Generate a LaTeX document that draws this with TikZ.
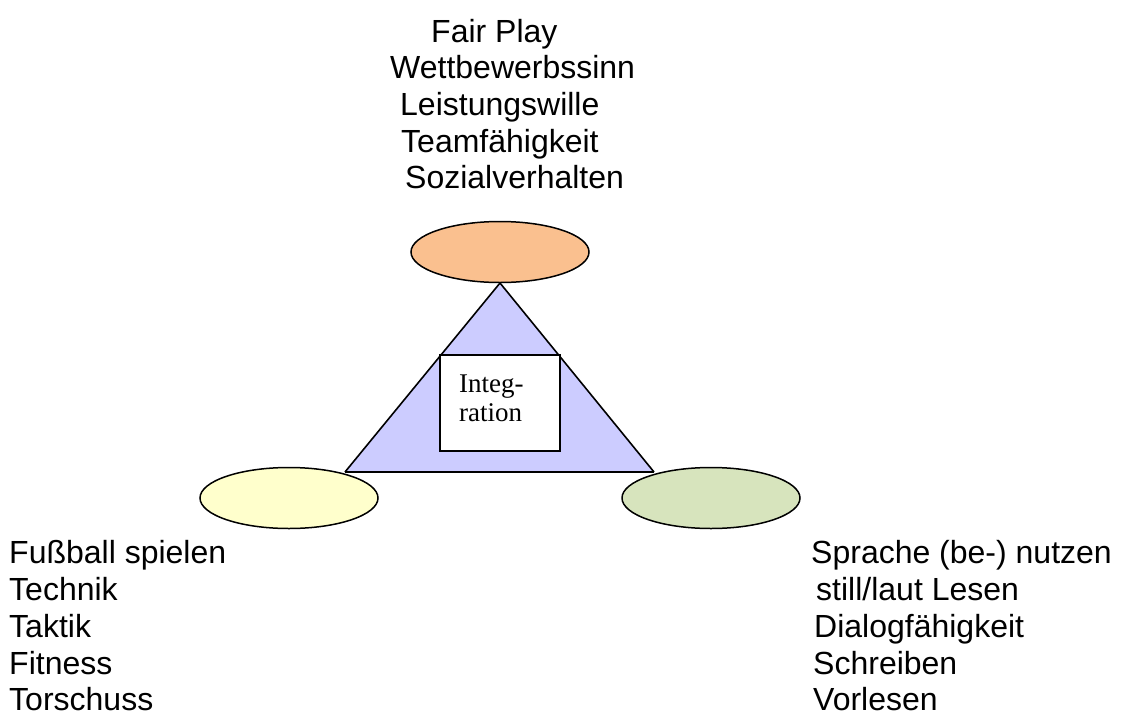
\documentclass[tikz,border=0pt]{standalone}
\usepackage{fontspec}
\setmainfont{Liberation Sans}
\newfontfamily\serifface{Liberation Serif}
\usetikzlibrary{shapes.geometric}
\definecolor{orangefill}{HTML}{FAC08F}
\definecolor{yellowfill}{HTML}{FFFFCC}
\definecolor{greenfill}{HTML}{D7E4BD}
\definecolor{bluefill}{HTML}{CCCCFF}
\tikzset{
  oval/.style={ellipse, draw=black, line width=1.5pt, minimum width=178pt, minimum height=61pt, inner sep=0pt},
  lbl/.style={anchor=base west, inner sep=0pt, font=\fontsize{32}{37}\selectfont},
  smalllbl/.style={anchor=base west, inner sep=0pt, font=\serifface\fontsize{27}{29}\selectfont},
}
\begin{document}
\begin{tikzpicture}[x=1pt,y=-1pt]
\useasboundingbox (0,0) rectangle (1124,715);
% triangle
\coordinate (apex) at (500,283);
\coordinate (bl) at (345,472);
\coordinate (br) at (654,472);
\fill[bluefill] (apex) -- (bl) -- (br) -- cycle;
\draw[line width=1.6pt, line join=miter] (bl) -- (apex) -- (br);
\draw[line width=2pt] (bl) -- (br);
% ellipses
\node[oval, fill=orangefill] (top) at (500,252) {};
\node[oval, fill=yellowfill] (left) at (289,498) {};
\node[oval, fill=greenfill] (right) at (711,498) {};
% integration box
\node[draw=black, line width=1.5pt, fill=white, minimum width=120pt, minimum height=96pt, inner sep=0pt] (box) at (500,403) {};
\node[smalllbl] (i1) at (459,392) {Integ-};
\node[smalllbl] (i2) at (459,421) {ration};
% top text
\node[lbl] (t1) at (431,42) {Fair Play};
\node[lbl] (t2) at (390,78) {Wettbewerbssinn};
\node[lbl] (t3) at (400,115) {Leistungswille};
\node[lbl] (t4) at (401,152) {Teamfähigkeit};
\node[lbl] (t5) at (405,188) {Sozialverhalten};
% left text
\node[lbl] (l1) at (9,563) {Fußball spielen};
\node[lbl] (l2) at (9,600) {Technik};
\node[lbl] (l3) at (9,637) {Taktik};
\node[lbl] (l4) at (9,674) {Fitness};
\node[lbl] (l5) at (9,710) {Torschuss};
% right text
\node[lbl] (r1) at (811,563) {Sprache (be-) nutzen};
\node[lbl] (r2) at (816,600) {still/laut Lesen};
\node[lbl] (r3) at (814,637) {Dialogfähigkeit};
\node[lbl] (r4) at (813,674) {Schreiben};
\node[lbl] (r5) at (813,710) {Vorlesen};
\end{tikzpicture}
\end{document}
